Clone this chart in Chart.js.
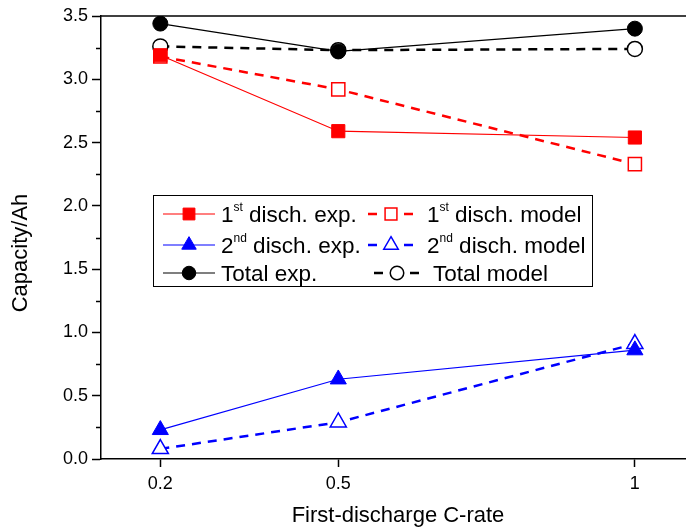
<!DOCTYPE html>
<html>
<head>
<meta charset="utf-8">
<title>Capacity vs first-discharge C-rate</title>
<script src="https://cdn.jsdelivr.net/npm/chart.js@4.4.1/dist/chart.umd.min.js"></script>
<style>
  html, body { margin: 0; padding: 0; background: #fff; overflow: hidden; }
  #wrap { width: 705px; height: 527px; }
</style>
</head>
<body>
<div id="wrap"><canvas id="capacityChart" width="705" height="527"></canvas></div>
<script>
// ---- DATA ----
const cRates = [0.2, 0.5, 1];
const xTickLabels = ['0.2', '0.5', '1'];
const firstExp = [3.19, 2.59, 2.54];
const firstModel = [3.18, 2.92, 2.33];
const secondExp = [0.23, 0.63, 0.86];
const secondModel = [0.08, 0.29, 0.91];
const totalExp = [3.44, 3.22, 3.40];
const totalModel = [3.26, 3.23, 3.24];

const FONT = '"Liberation Sans", Arial, sans-serif';

function toPoints(values) {
  return cRates.map((x, i) => ({ x: x, y: values[i] }));
}

function expSet(label, values, color, style, radius) {
  return {
    label,
    data: toPoints(values),
    borderColor: color,
    backgroundColor: color,
    borderWidth: 1.2,
    pointStyle: style,
    pointRadius: radius,
    pointHoverRadius: radius,
    pointBackgroundColor: color,
    pointBorderColor: color,
    pointBorderWidth: 1,
    showLine: true,
    tension: 0
  };
}

function modelSet(label, values, color, style, radius) {
  return {
    label,
    data: toPoints(values),
    borderColor: color,
    backgroundColor: '#fff',
    borderWidth: 2.5,
    borderDash: [9, 7],
    pointStyle: style,
    pointRadius: radius,
    pointHoverRadius: radius,
    pointBackgroundColor: '#fff',
    pointBorderColor: color,
    pointBorderWidth: 1.5,
    showLine: true,
    tension: 0
  };
}

const datasets = [
  expSet('1st disch. exp.', firstExp, '#ff0000', 'rect', 9.3),
  modelSet('1st disch. model', firstModel, '#ff0000', 'rect', 9.3),
  expSet('2nd disch. exp.', secondExp, '#0000ff', 'triangle', 9.3),
  modelSet('2nd disch. model', secondModel, '#0000ff', 'triangle', 9.3),
  expSet('Total exp.', totalExp, '#000000', 'circle', 7.5),
  modelSet('Total model', totalModel, '#000000', 'circle', 7.5)
];

// ---- FRAME, TITLES, LEGEND ----
function drawLabel(ctx, text, x, baseline) {
  // split "1st ..." / "2nd ..." so the suffix is a superscript
  const m = text.match(/^(\d)(st|nd|rd|th)(.*)$/);
  ctx.textAlign = 'left';
  ctx.textBaseline = 'alphabetic';
  ctx.font = '22.5px ' + FONT;
  if (!m) { ctx.fillText(text, x, baseline); return; }
  ctx.fillText(m[1], x, baseline);
  x += ctx.measureText(m[1]).width;
  ctx.font = '12px ' + FONT;
  ctx.fillText(m[2], x, baseline - 11);
  x += ctx.measureText(m[2]).width;
  ctx.font = '22.5px ' + FONT;
  ctx.fillText(m[3], x, baseline);
}

const framePlugin = {
  id: 'framePlugin',
  afterDraw(chart) {
    const ctx = chart.ctx;
    const area = chart.chartArea;
    const yScale = chart.scales.y;
    ctx.save();

    // top frame line
    ctx.strokeStyle = '#000';
    ctx.lineWidth = 1.5;
    ctx.beginPath();
    ctx.moveTo(area.left, area.top);
    ctx.lineTo(area.right, area.top);
    ctx.stroke();

    // minor ticks on y
    for (let v = 0.25; v < 3.5; v += 0.5) {
      const py = Math.round(yScale.getPixelForValue(v)) + 0.5;
      ctx.beginPath();
      ctx.moveTo(area.left - 5, py);
      ctx.lineTo(area.left, py);
      ctx.stroke();
    }

    // axis titles
    ctx.fillStyle = '#000';
    ctx.font = '22px ' + FONT;
    ctx.textAlign = 'center';
    ctx.textBaseline = 'alphabetic';
    ctx.fillText('First-discharge C-rate', 398, 522);
    ctx.save();
    ctx.translate(27, 253);
    ctx.rotate(-Math.PI / 2);
    ctx.fillText('Capacity/Ah', 0, 0);
    ctx.restore();

    // legend box
    ctx.fillStyle = '#fff';
    ctx.fillRect(153, 195, 439, 91);
    ctx.lineWidth = 1;
    ctx.strokeStyle = '#000';
    ctx.strokeRect(153.5, 195.5, 439, 91);

    const rows = [[0, 1], [2, 3], [4, 5]];
    const baselines = [222, 253, 281];
    rows.forEach((pair, r) => {
      pair.forEach((idx, c) => {
        const ds = chart.data.datasets[idx];
        const cy = baselines[r] - 8;
        const shift = (c === 1 && r === 2) ? 6 : 0;
        const lineStart = (c === 0 ? 163 : 368) + shift;
        const lineEnd = (c === 0 ? 215 : 413) + shift;
        const mx = (c === 0 ? 189 : 391) + shift;
        ctx.strokeStyle = ds.borderColor;
        ctx.lineWidth = c === 0 ? 1.2 : 2.5;
        ctx.setLineDash(c === 0 ? [] : [9, 27]);
        ctx.beginPath();
        ctx.moveTo(lineStart, cy);
        ctx.lineTo(lineEnd, cy);
        ctx.stroke();
        ctx.setLineDash([]);
        ctx.fillStyle = ds.pointBackgroundColor;
        ctx.strokeStyle = ds.pointBorderColor;
        ctx.lineWidth = ds.pointBorderWidth;
        Chart.helpers.drawPoint(ctx, {
          pointStyle: ds.pointStyle,
          radius: ds.pointRadius * 0.9,
          rotation: 0,
          borderWidth: ds.pointBorderWidth
        }, mx, cy);
        ctx.fillStyle = '#000';
        const tx = c === 0 ? 221 : (r === 2 ? 433 : 427);
        drawLabel(ctx, ds.label, tx, baselines[r]);
      });
    });

    ctx.restore();
  }
};

// ---- CHART ----
function initChart() {
  const ctx = document.getElementById('capacityChart');
  new Chart(ctx, {
    type: 'scatter',
    data: { datasets },
    options: {
      responsive: false,
      animation: false,
      events: [],
      layout: { padding: { left: 0, top: 16, right: 0, bottom: 0 } },
      plugins: {
        legend: { display: false },
        tooltip: { enabled: false }
      },
      scales: {
        x: {
          type: 'linear',
          min: 0.1,
          max: 1.1,
          afterFit: scale => {
            scale.height = 68;
            scale.paddingLeft = 0;
            scale.paddingRight = 0;
          },
          afterBuildTicks: axis => { axis.ticks = cRates.map(v => ({ value: v })); },
          border: { color: '#000', width: 1.5 },
          grid: { drawOnChartArea: false, tickLength: 8, tickColor: '#000', tickWidth: 1.5 },
          ticks: {
            color: '#000',
            padding: 6,
            font: { family: FONT, size: 18 },
            callback: (value, index) => xTickLabels[index]
          }
        },
        y: {
          min: 0,
          max: 3.5,
          afterFit: scale => { scale.width = 101; },
          border: { color: '#000', width: 1.5 },
          grid: { drawOnChartArea: false, tickLength: 9, tickColor: '#000', tickWidth: 1.5 },
          ticks: {
            stepSize: 0.5,
            color: '#000',
            padding: 4,
            font: { family: FONT, size: 18 },
            callback: value => value.toFixed(1)
          }
        }
      }
    },
    plugins: [framePlugin]
  });
}

initChart();
</script>
</body>
</html>
